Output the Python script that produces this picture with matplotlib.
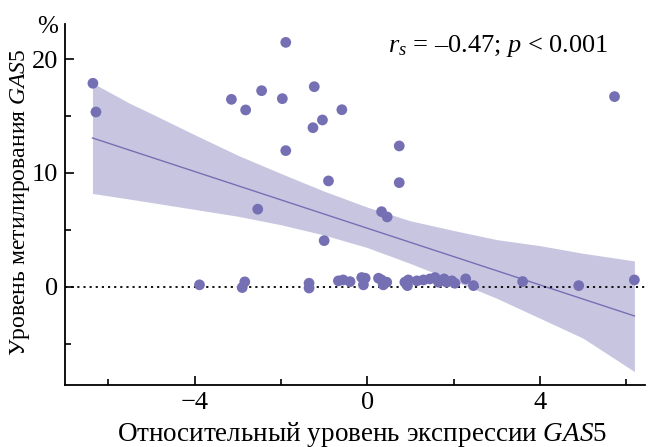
import numpy as np
import matplotlib
matplotlib.use("Agg")
import matplotlib.pyplot as plt
from matplotlib.ticker import MultipleLocator

plt.rcParams.update({
    "font.family": ["Liberation Serif", "DejaVu Serif"],
    "mathtext.fontset": "custom",
    "mathtext.rm": "Liberation Serif",
    "mathtext.it": "Liberation Serif:italic",
    "font.size": 18,
})

# relative GAS5 expression vs GAS5 methylation level, %
expr = [
    -6.36, -6.29, -3.15, -2.82, -2.45, -1.97, -1.89, -1.89, -1.23, -1.04,
    -1.26, -0.59, -0.90, -2.54, 0.74, 0.33, 0.46, -1.00, 0.74, 5.73,
    -3.89, -2.84, -2.90, -1.35, -1.35,
    -0.67, -0.56, -0.40, -0.13, -0.05, -0.09, 0.26, 0.33, 0.37, 0.45,
    0.87, 0.95, 0.93, 1.15, 1.30, 1.45, 1.57, 1.65, 1.78, 1.84,
    1.96, 2.03, 2.28, 2.46,
    3.60, 4.90, 6.19,
]
methyl = [
    17.87, 15.35, 16.46, 15.53, 17.22, 16.52, 21.46, 11.96, 17.57, 14.65,
    13.97, 15.55, 9.30, 6.82, 9.15, 6.60, 6.14, 4.06, 12.37, 16.70,
    0.18, 0.44, -0.06, 0.32, -0.10,
    0.53, 0.61, 0.46, 0.82, 0.76, 0.18, 0.76, 0.61, 0.18, 0.41,
    0.41, 0.61, 0.11, 0.53, 0.61, 0.70, 0.82, 0.41, 0.70, 0.41,
    0.53, 0.32, 0.70, 0.11,
    0.47, 0.11, 0.61,
]

# regression line ends and confidence band
fit_x = [-6.37, 6.19]
fit_y = [13.07, -2.55]
band_x = [-6.37, -5.5, -5, -4, -3, -2, -1, 0, 1, 2, 3, 4, 5, 6.19]
band_hi = [17.9, 16.1, 15.2, 13.35, 11.55, 9.95, 8.4, 7.0, 5.8, 4.95, 4.15, 3.62, 2.95, 2.28]
band_lo = [8.2, 7.7, 7.4, 6.8, 6.2, 5.45, 4.55, 3.45, 2.05, 0.55, -1.0, -2.75, -4.5, -7.43]

color = "#7570b3"

fig = plt.figure(figsize=(6.53, 4.47), dpi=100)
ax = fig.add_axes([0.100, 0.139, 0.888, 0.808])

ax.fill_between(band_x, band_lo, band_hi, color=color, alpha=0.4, lw=0, zorder=1)
ax.plot(fit_x, fit_y, color=color, lw=1.0, zorder=2)
ax.axhline(0, color="black", ls=(0, (1.2, 2.2)), lw=1.3, zorder=2)
ax.scatter(expr, methyl, s=60, color=color, edgecolors="none", zorder=3)

ax.set_xlim(-7.0, 6.44)
ax.set_ylim(-8.6, 23.1)

ax.xaxis.set_minor_locator(MultipleLocator(2))
ax.yaxis.set_minor_locator(MultipleLocator(5))
ax.set_xticks([-4, 0, 4])
ax.set_xticklabels(["\u22124", "0", "4"])
ax.set_yticks([0, 10, 20])

ax.tick_params(which="both", direction="in", width=1.2, labelsize=19)
ax.tick_params(which="major", length=6.5, pad=5)
ax.tick_params(which="minor", length=4)

for side in ["top", "right"]:
    ax.spines[side].set_visible(False)
for side in ["left", "bottom"]:
    ax.spines[side].set_linewidth(1.3)

ax.set_xlabel("Относительный уровень экспрессии $\\mathit{GAS5}$", fontsize=19.5)
ax.xaxis.set_label_coords(0.512, -0.096)
ax.set_ylabel("Уровень метилирования $\\mathit{GAS5}$", fontsize=17)
ax.yaxis.set_label_coords(-0.058, 0.507)
ax.text(-0.030, 0.99, "%", transform=ax.transAxes, fontsize=18,
        ha="center", va="center")

ax.text(0.48, 20.6, "$r_s$ = \u20130.47; $p$ < 0.001", fontsize=19, va="baseline")

fig.savefig("out.png", dpi=100)
